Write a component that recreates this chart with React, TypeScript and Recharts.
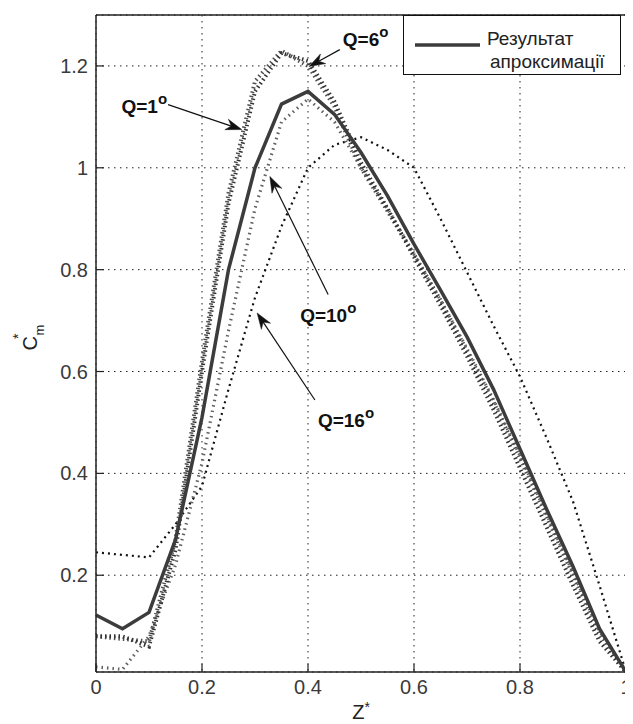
import React from 'react';
import { LineChart, Line, XAxis, YAxis, CartesianGrid, ReferenceLine, Legend } from 'recharts';

// Z* positions
const zValues = [0, 0.05, 0.1, 0.15, 0.2, 0.25, 0.3, 0.35, 0.4, 0.45, 0.5, 0.55, 0.6, 0.65, 0.7, 0.75, 0.8, 0.85, 0.9, 0.95, 1];
// approximation result (solid)
const approxValues = [0.122, 0.095, 0.127, 0.27, 0.51, 0.8, 1.0, 1.125, 1.15, 1.105, 1.03, 0.945, 0.85, 0.76, 0.668, 0.565, 0.448, 0.33, 0.217, 0.095, 0.01];
// Q = 1 deg
const q1Values = [0.08, 0.08, 0.06, 0.25, 0.6, 0.93, 1.15, 1.225, 1.21, 1.13, 1.01, 0.92, 0.825, 0.73, 0.63, 0.525, 0.41, 0.295, 0.18, 0.07, 0.01];
// Q = 6 deg
const q6Values = [0.08, 0.075, 0.07, 0.27, 0.62, 0.95, 1.17, 1.23, 1.2, 1.12, 1.0, 0.915, 0.83, 0.74, 0.64, 0.54, 0.43, 0.315, 0.2, 0.085, 0.01];
// Q = 10 deg
const q10Values = [0.02, 0.015, 0.08, 0.22, 0.42, 0.68, 0.92, 1.09, 1.135, 1.09, 1.0, 0.92, 0.83, 0.74, 0.645, 0.545, 0.435, 0.32, 0.205, 0.09, 0.01];
// Q = 16 deg
const q16Values = [0.245, 0.24, 0.235, 0.3, 0.375, 0.565, 0.745, 0.885, 1.0, 1.045, 1.06, 1.035, 1.0, 0.9, 0.795, 0.69, 0.59, 0.47, 0.345, 0.18, 0.01];

const xTicks = [0, 0.2, 0.4, 0.6, 0.8, 1];
const xTickLabels = ['0', '0.2', '0.4', '0.6', '0.8', '1'];
const yTicks = [0.2, 0.4, 0.6, 0.8, 1, 1.2];
const yTickLabels = ['0.2', '0.4', '0.6', '0.8', '1', '1.2'];

const legendName = 'Результат апроксимації';

const annotations = [
  { label: 'Q=1', tail: { z: 0.136, v: 1.124 }, tip: { z: 0.275, v: 1.075 }, tx: -1, ty: 8, anchor: 'end' },
  { label: 'Q=6', tail: { z: 0.46, v: 1.232 }, tip: { z: 0.402, v: 1.199 }, tx: 3, ty: -4, anchor: 'start' },
  { label: 'Q=10', tail: { z: 0.438, v: 0.751 }, tip: { z: 0.328, v: 0.983 }, tx: -28, ty: 27, anchor: 'start' },
  { label: 'Q=16', tail: { z: 0.413, v: 0.544 }, tip: { z: 0.304, v: 0.715 }, tx: 3, ty: 27, anchor: 'start' },
];

const data = zValues.map((z, i) => ({
  z,
  approx: approxValues[i],
  q1: q1Values[i],
  q6: q6Values[i],
  q10: q10Values[i],
  q16: q16Values[i],
}));

const FONT = '"Liberation Sans", Arial, Helvetica, sans-serif';

const makeArrow = (a: any) => (props: any) => {
  const { x1, y1, x2, y2 } = props;
  const dx = x2 - x1;
  const dy = y2 - y1;
  const len = Math.hypot(dx, dy) || 1;
  const ux = dx / len;
  const uy = dy / len;
  const px = -uy;
  const py = ux;
  const L = 16;
  const W = 5.5;
  const N = 11;
  const bx = x2 - ux * L;
  const by = y2 - uy * L;
  const nx = x2 - ux * N;
  const ny = y2 - uy * N;
  const pts = `${x2},${y2} ${bx + px * W},${by + py * W} ${nx},${ny} ${bx - px * W},${by - py * W}`;
  return (
    <g>
      <line x1={x1} y1={y1} x2={nx} y2={ny} stroke="#111" strokeWidth={1.2} />
      <polygon points={pts} fill="#111" stroke="#111" strokeWidth={0.5} />
      <text
        x={x1 + a.tx}
        y={y1 + a.ty}
        textAnchor={a.anchor}
        fontFamily={FONT}
        fontWeight="bold"
        fontSize={19}
        fill="#111"
      >
        {a.label}
        <tspan dy={-9} fontSize={15}>o</tspan>
      </text>
    </g>
  );
};

const renderLegend = (props: any) => {
  const items = (props.payload || []).filter((p: any) => p.type !== 'none' && p.value === legendName);
  const item = items[0];
  const words = (item ? String(item.value) : legendName).split(' ');
  const color = item ? item.color : '#3c3c3c';
  return (
    <svg width={218} height={60} style={{ display: 'block' }}>
      <rect x={0.5} y={0.5} width={217} height={59} fill="#fff" stroke="#111" strokeWidth={1} />
      <line x1={12} y1={30} x2={77} y2={30} stroke={color} strokeWidth={3.5} />
      <text x={84} y={30} fontFamily={FONT} fontSize={19} fill="#222">{words[0]}</text>
      <text x={87} y={53} fontFamily={FONT} fontSize={19} fill="#222">{words[1]}</text>
    </svg>
  );
};

const xLabel = (props: any) => {
  const vb = props.viewBox || {};
  const cx = vb.x + vb.width / 2;
  const y = vb.y + 47;
  return (
    <text x={cx} y={y} textAnchor="middle" fontFamily={FONT} fontSize={20} fill="#222">
      Z<tspan dy={-7} fontSize={14}>*</tspan>
    </text>
  );
};

const yLabel = (props: any) => {
  const vb = props.viewBox || {};
  const cx = 29;
  const cy = vb.y + vb.height / 2 + 7;
  return (
    <text
      x={cx}
      y={cy}
      transform={`rotate(-90, ${cx}, ${cy})`}
      textAnchor="start"
      fontFamily={FONT}
      fontSize={20}
      fill="#222"
    >
      C<tspan dx={-3} dy={-14} fontSize={14}>*</tspan>
      <tspan dx={-2} dy={21} fontSize={13}>m</tspan>
    </text>
  );
};

const tickStyle = { fontSize: 20, fill: '#3a3a3a', fontFamily: FONT };
const axisStroke = { stroke: '#222', strokeWidth: 1.5 };
const tickLineStyle = { stroke: '#222', strokeWidth: 1.2 };

export default function App() {
  return (
    <div style={{ width: 625, height: 716, position: 'relative' }}>
      <LineChart
        width={625}
        height={716}
        data={data}
        margin={{ top: 6, right: 6, bottom: 0, left: 0 }}
        style={{ background: '#fff', overflow: 'visible' }}
      >
        <CartesianGrid stroke="#222" strokeDasharray="1.5 4.5" strokeWidth={1} />
        <XAxis
          dataKey="z"
          type="number"
          domain={[0, 1]}
          ticks={xTicks}
          tickFormatter={(v: number) => xTickLabels[xTicks.indexOf(v)] ?? String(v)}
          tickSize={-8}
          tickMargin={16}
          height={52}
          tick={tickStyle}
          axisLine={axisStroke}
          tickLine={tickLineStyle}
          interval={0}
          allowDataOverflow
          label={xLabel}
        />
        <XAxis
          xAxisId="top"
          orientation="top"
          dataKey="z"
          type="number"
          domain={[0, 1]}
          ticks={xTicks}
          tick={false}
          tickSize={-8}
          height={1}
          axisLine={axisStroke}
          tickLine={tickLineStyle}
          interval={0}
          allowDataOverflow
        />
        <YAxis
          type="number"
          domain={[0.01, 1.3]}
          ticks={yTicks}
          tickFormatter={(v: number) => yTickLabels[yTicks.indexOf(v)] ?? String(v)}
          tickSize={-8}
          tickMargin={16}
          width={88}
          tick={tickStyle}
          axisLine={axisStroke}
          tickLine={tickLineStyle}
          interval={0}
          allowDataOverflow
          label={yLabel}
        />
        <YAxis
          yAxisId="right"
          orientation="right"
          type="number"
          domain={[0.01, 1.3]}
          ticks={yTicks}
          tick={false}
          tickSize={-8}
          width={1}
          axisLine={axisStroke}
          tickLine={tickLineStyle}
          interval={0}
          allowDataOverflow
        />
        <Line
          xAxisId="top"
          yAxisId="right"
          dataKey="q16"
          stroke="transparent"
          dot={false}
          activeDot={false}
          legendType="none"
          isAnimationActive={false}
        />
        <Line type="linear" dataKey="q16" name="Q=16" stroke="#111" strokeWidth={2.2} strokeDasharray="2 4" dot={false} legendType="none" isAnimationActive={false} />
        <Line type="linear" dataKey="q10" name="Q=10" stroke="#606060" strokeWidth={3.2} strokeDasharray="1.5 4" dot={false} legendType="none" isAnimationActive={false} />
        <Line type="linear" dataKey="q6" name="Q=6" stroke="#505050" strokeWidth={4} strokeDasharray="1.5 3" dot={false} legendType="none" isAnimationActive={false} />
        <Line type="linear" dataKey="q1" name="Q=1" stroke="#333" strokeWidth={4} strokeDasharray="1.5 3" dot={false} legendType="none" isAnimationActive={false} />
        <Line type="linear" dataKey="approx" name={legendName} stroke="#3c3c3c" strokeWidth={3.5} dot={false} isAnimationActive={false} />
        {annotations.map((a) => (
          <ReferenceLine
            key={a.label}
            segment={[{ x: a.tail.z, y: a.tail.v }, { x: a.tip.z, y: a.tip.v }]}
            ifOverflow="visible"
            shape={makeArrow(a)}
          />
        ))}
        <Legend
          layout="vertical"
          align="center"
          verticalAlign="middle"
          width={218}
          height={60}
          content={renderLegend}
          wrapperStyle={{ left: 395, top: 7, width: 218, height: 60, margin: 0, padding: 0 }}
        />
      </LineChart>
    </div>
  );
}
